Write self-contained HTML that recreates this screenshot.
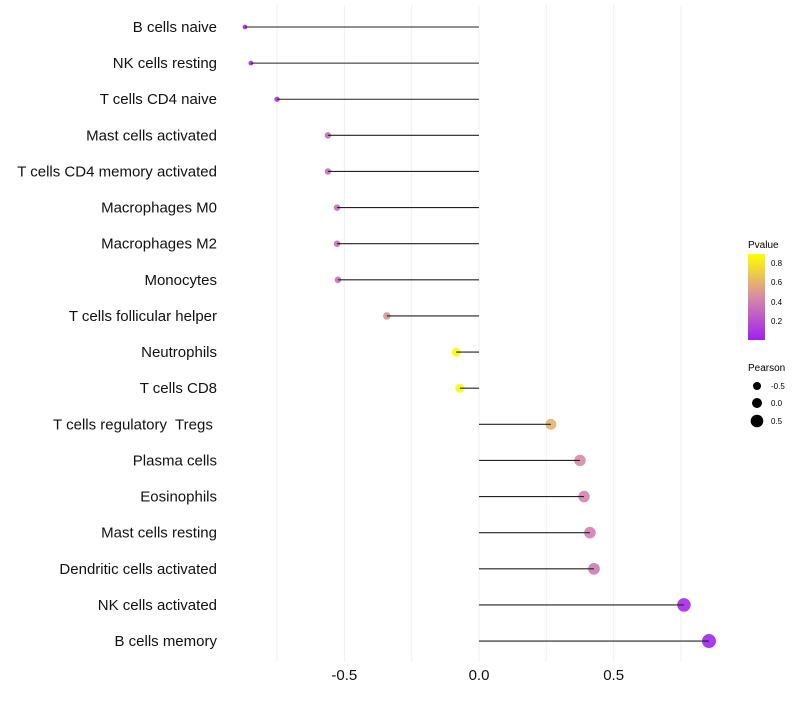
<!DOCTYPE html>
<html><head><meta charset="utf-8"><style>
body{margin:0;background:#fff;font-family:"Liberation Sans",sans-serif}
</style></head><body>
<svg id="c" width="800" height="700" xmlns="http://www.w3.org/2000/svg">
<defs><linearGradient id="pg" x1="0" y1="1" x2="0" y2="0">
<stop offset="0" stop-color="#A020F0"/><stop offset="0.5" stop-color="#D88AA8"/><stop offset="1" stop-color="#FFFF00"/></linearGradient></defs>
<g id="grid"></g><g id="marks"></g><g id="labels"></g><g id="ticks"></g>
<g>
<text x="748" y="248" font-size="10">Pvalue</text>
<rect x="748" y="254" width="17" height="86" fill="url(#pg)"/>
<text x="771" y="266" font-size="8">0.8</text>
<text x="771" y="285" font-size="8">0.6</text>
<text x="771" y="305" font-size="8">0.4</text>
<text x="771" y="324" font-size="8">0.2</text>
</g>
<g>
<text x="748" y="371" font-size="10">Pearson</text>
<circle cx="757" cy="386" r="4" fill="#000"/>
<text x="771" y="389" font-size="8">-0.5</text>
<circle cx="757" cy="403" r="5" fill="#000"/>
<text x="771" y="406" font-size="8">0.0</text>
<circle cx="757" cy="421" r="6.3" fill="#000"/>
<text x="771" y="424" font-size="8">0.5</text>
</g>
</svg>
<script>
const categories=["B cells naive","NK cells resting","T cells CD4 naive","Mast cells activated","T cells CD4 memory activated","Macrophages M0","Macrophages M2","Monocytes","T cells follicular helper","Neutrophils","T cells CD8","T cells regulatory  Tregs ","Plasma cells","Eosinophils","Mast cells resting","Dendritic cells activated","NK cells activated","B cells memory"];
const pearson=[-0.869,-0.847,-0.75,-0.561,-0.561,-0.527,-0.527,-0.524,-0.342,-0.085,-0.071,0.267,0.375,0.39,0.412,0.427,0.761,0.854];
const pvalues=[0.03,0.04,0.08,0.3,0.3,0.32,0.32,0.33,0.5,0.88,0.88,0.6,0.45,0.42,0.4,0.38,0.04,0.02];
const xTicks=[-0.5,0,0.5];
const xTickLabels=["-0.5","0.0","0.5"];
const gridVals=[-0.75,-0.5,-0.25,0,0.25,0.5,0.75];
const NS="http://www.w3.org/2000/svg";
const X=v=>479+v*269.3;
const Y=i=>27+i*36.12;
function mk(t,a,p){const e=document.createElementNS(NS,t);for(const k in a)e.setAttribute(k,a[k]);document.getElementById(p).appendChild(e);return e;}
function hex(h){return [1,3,5].map(i=>parseInt(h.substr(i,2),16));}
const stops=[[0,hex("#A020F0")],[0.45,hex("#D88AA8")],[0.9,hex("#FFFF00")]];
function col(p){p=Math.max(0,Math.min(0.9,p));for(let i=0;i<stops.length-1;i++){const a=stops[i],b=stops[i+1];if(p<=b[0]){const t=(p-a[0])/(b[0]-a[0]);return "rgb("+a[1].map((c,j)=>Math.round(c+(b[1][j]-c)*t)).join(",")+")";}}}
gridVals.forEach(v=>{const l=mk("line",{x1:X(v),x2:X(v),y1:5,y2:662,stroke:"#f0f0f0","stroke-width":1},"grid");

});
categories.forEach((c,i)=>{
const t=mk("text",{x:217,y:Y(i)+5,"text-anchor":"end","font-size":15,fill:"#111",style:"white-space:pre"},"labels");t.textContent=c;


const r=Math.max(1.8,4.7+2.7*pearson[i]);
const d=mk("circle",{cx:X(pearson[i]),cy:Y(i),r:r,fill:col(pvalues[i]),opacity:0.9},"marks");


const l=mk("line",{x1:X(0),x2:X(pearson[i]),y1:Y(i),y2:Y(i),stroke:"#222","stroke-width":1.1},"marks");


});
xTicks.forEach((v,i)=>{const t=mk("text",{x:X(v),y:680,"text-anchor":"middle","font-size":15,fill:"#111"},"ticks");t.textContent=xTickLabels[i];

});
</script>
</body></html>
